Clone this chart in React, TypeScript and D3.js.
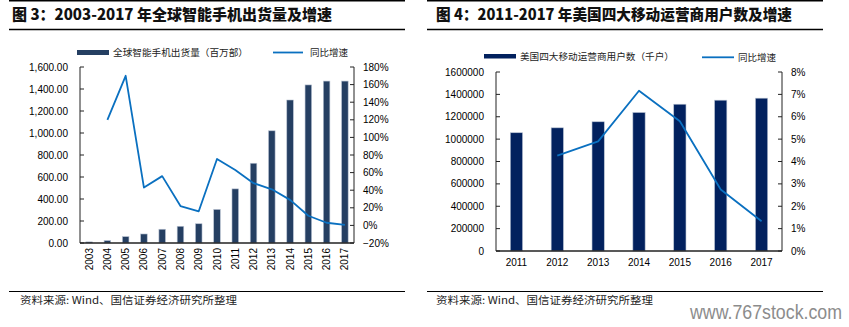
import React from "react";
import * as d3 from "d3";

// ---- Data: Figure 3 ----
const years3 = ["2003","2004","2005","2006","2007","2008","2009","2010","2011","2012","2013","2014","2015","2016","2017"];
const shipments3 = [10, 22, 58, 82, 125, 152, 175, 305, 492, 725, 1020, 1300, 1437, 1472, 1472];
const growth3: (number | null)[] = [null, 1.20, 1.70, 0.43, 0.56, 0.22, 0.16, 0.755, 0.63, 0.48, 0.41, 0.29, 0.11, 0.03, 0.005];

// ---- Data: Figure 4 ----
const years4 = ["2011","2012","2013","2014","2015","2016","2017"];
const subs4 = [1057000, 1101000, 1155000, 1238000, 1312000, 1348000, 1366000];
const growth4: (number | null)[] = [null, 0.0426, 0.049, 0.0716, 0.058, 0.0275, 0.0133];

const title3 = "图 3：2003-2017 年全球智能手机出货量及增速";
const title4 = "图 4：2011-2017 年美国四大移动运营商用户数及增速";
const legendBar3 = "全球智能手机出货量（百万部）";
const legendBar4 = "美国四大移动运营商用户数（千户）";
const legendLine = "同比增速";
const source = "资料来源: Wind、国信证券经济研究所整理";
const watermark = "www.767stock.com";

const NUM = "'Liberation Sans', Arial, sans-serif";
const CJK = "'Noto Sans CJK SC', 'Noto Sans', sans-serif";
const LINE = "#0a70c0";

export default function App() {
  // Figure 3 scales
  const x3 = d3.scaleBand<string>().domain(years3).range([80, 354]).paddingInner(0.64).paddingOuter(0.32);
  const y3 = d3.scaleLinear().domain([0, 1600]).range([243, 67]);
  const y3r = d3.scaleLinear().domain([-0.2, 1.8]).range([243, 67]);
  const line3 = d3.line<[string, number | null]>()
    .defined(d => d[1] !== null)
    .x(d => (x3(d[0]) as number) + x3.bandwidth() / 2)
    .y(d => y3r(d[1] as number));
  const pts3 = years3.map((y, i) => [y, growth3[i]] as [string, number | null]);

  // Figure 4 scales
  const x4 = d3.scaleBand<string>().domain(years4).range([496, 782]).paddingInner(0.7).paddingOuter(0.35);
  const y4 = d3.scaleLinear().domain([0, 1600000]).range([251, 72]);
  const y4r = d3.scaleLinear().domain([0, 0.08]).range([251, 72]);
  const line4 = d3.line<[string, number | null]>()
    .defined(d => d[1] !== null)
    .x(d => (x4(d[0]) as number) + x4.bandwidth() / 2)
    .y(d => y4r(d[1] as number));
  const pts4 = years4.map((y, i) => [y, growth4[i]] as [string, number | null]);

  const fmtL3 = d3.format(",.2f");
  const fmtPct = d3.format(".0%");
  const fmtL4 = d3.format("d");

  const axisColor = "#222";

  return (
    <svg width={849} height={327} style={{ position: "absolute", left: 0, top: 0, background: "#fff" }}>
      <rect x={0} y={0} width={849} height={327} fill="#fff" />
      {/* frame lines */}
      <line x1={9} x2={405} y1={0.8} y2={0.8} stroke="#000" strokeWidth={1.5} />
      <line x1={427} x2={823} y1={0.8} y2={0.8} stroke="#000" strokeWidth={1.5} />
      <line x1={9} x2={405} y1={29.5} y2={29.5} stroke="#000" strokeWidth={1.3} />
      <line x1={427} x2={823} y1={29.5} y2={29.5} stroke="#000" strokeWidth={1.3} />
      <line x1={9} x2={405} y1={291.5} y2={291.5} stroke="#000" strokeWidth={1.2} />
      <line x1={427} x2={823} y1={291.5} y2={291.5} stroke="#000" strokeWidth={1.2} />

      {/* titles */}
      <text x={12} y={20} fontFamily={CJK} fontWeight={900} fontSize={15} fill="#111" textLength={320} lengthAdjust="spacingAndGlyphs">{title3}</text>
      <text x={436} y={20} fontFamily={CJK} fontWeight={900} fontSize={15} fill="#111" textLength={356} lengthAdjust="spacingAndGlyphs">{title4}</text>

      {/* legends fig 3 */}
      <rect x={77} y={50} width={32} height={5} fill="#253f62" />
      <text x={113} y={56} fontFamily={CJK} fontSize={9.5} fill="#222" textLength={135} lengthAdjust="spacingAndGlyphs">{legendBar3}</text>
      <line x1={273} x2={303} y1={52.5} y2={52.5} stroke={LINE} strokeWidth={1.8} />
      <text x={310} y={56} fontFamily={CJK} fontSize={9.5} fill="#222" textLength={38} lengthAdjust="spacingAndGlyphs">{legendLine}</text>

      {/* legends fig 4 */}
      <rect x={484} y={54} width={32} height={4.5} fill="#02215e" />
      <text x={520} y={60} fontFamily={CJK} fontSize={9.5} fill="#222" textLength={154} lengthAdjust="spacingAndGlyphs">{legendBar4}</text>
      <line x1={702} x2={734} y1={57.3} y2={57.3} stroke={LINE} strokeWidth={1.8} />
      <text x={738} y={60.5} fontFamily={CJK} fontSize={9.5} fill="#222" textLength={38} lengthAdjust="spacingAndGlyphs">{legendLine}</text>

      {/* ---- Figure 3 ---- */}
      {years3.map((yr, i) => (
        <rect key={yr} x={x3(yr)} y={y3(shipments3[i])} width={x3.bandwidth()} height={y3(0) - y3(shipments3[i])}
          fill="#253f62" stroke="#b8c2d2" strokeWidth={0.6} />
      ))}
      <path d={line3(pts3) || ""} fill="none" stroke={LINE} strokeWidth={1.8} strokeLinejoin="round" />
      {/* left axis */}
      <line x1={80} x2={80} y1={67} y2={243} stroke={axisColor} strokeWidth={1} />
      {y3.ticks(8).map(t => (
        <g key={"l3" + t}>
          <line x1={80} x2={84} y1={y3(t)} y2={y3(t)} stroke={axisColor} strokeWidth={1} />
          <text x={68} y={y3(t)} dy="0.35em" textAnchor="end" fontFamily={NUM} fontSize={10} fill="#000">{fmtL3(t)}</text>
        </g>
      ))}
      {/* right axis */}
      <line x1={354} x2={354} y1={67} y2={243} stroke={axisColor} strokeWidth={1} />
      {y3r.ticks(10).map(t => (
        <g key={"r3" + t}>
          <line x1={350} x2={354} y1={y3r(t)} y2={y3r(t)} stroke={axisColor} strokeWidth={1} />
          <text x={363} y={y3r(t)} dy="0.35em" textAnchor="start" fontFamily={NUM} fontSize={10} fill="#000">{fmtPct(t)}</text>
        </g>
      ))}
      {/* bottom axis */}
      <line x1={80} x2={354} y1={243} y2={243} stroke={axisColor} strokeWidth={1.4} />
      {years3.map(yr => {
        const cx = (x3(yr) as number) + x3.bandwidth() / 2;
        return (
          <text key={"xl3" + yr} transform={`translate(${cx},${248}) rotate(-90)`} dy="0.35em" textAnchor="end"
            fontFamily={NUM} fontSize={10} fill="#000">{yr}</text>
        );
      })}

      {/* ---- Figure 4 ---- */}
      {years4.map((yr, i) => (
        <rect key={yr} x={x4(yr)} y={y4(subs4[i])} width={x4.bandwidth()} height={y4(0) - y4(subs4[i])}
          fill="#02215e" stroke="#b8c2d2" strokeWidth={0.6} />
      ))}
      <path d={line4(pts4) || ""} fill="none" stroke={LINE} strokeWidth={1.8} strokeLinejoin="round" />
      <line x1={496} x2={496} y1={72} y2={251} stroke={axisColor} strokeWidth={1} />
      {y4.ticks(8).map(t => (
        <g key={"l4" + t}>
          <line x1={496} x2={500} y1={y4(t)} y2={y4(t)} stroke={axisColor} strokeWidth={1} />
          <text x={484} y={y4(t)} dy="0.35em" textAnchor="end" fontFamily={NUM} fontSize={10} fill="#000">{fmtL4(t)}</text>
        </g>
      ))}
      <line x1={782} x2={782} y1={72} y2={251} stroke={axisColor} strokeWidth={1} />
      {y4r.ticks(8).map(t => (
        <g key={"r4" + t}>
          <line x1={778} x2={782} y1={y4r(t)} y2={y4r(t)} stroke={axisColor} strokeWidth={1} />
          <text x={791} y={y4r(t)} dy="0.35em" textAnchor="start" fontFamily={NUM} fontSize={10} fill="#000">{fmtPct(t)}</text>
        </g>
      ))}
      <line x1={496} x2={782} y1={251} y2={251} stroke={axisColor} strokeWidth={1.4} />
      {years4.map(yr => {
        const cx = (x4(yr) as number) + x4.bandwidth() / 2;
        return (
          <text key={"xl4" + yr} x={cx} y={262} dy="0.35em" textAnchor="middle" fontFamily={NUM} fontSize={10} fill="#000">{yr}</text>
        );
      })}

      {/* sources */}
      <text x={20} y={304} fontFamily={CJK} fontSize={10} fill="#222" textLength={217} lengthAdjust="spacingAndGlyphs">{source}</text>
      <text x={436} y={304} fontFamily={CJK} fontSize={10} fill="#222" textLength={217} lengthAdjust="spacingAndGlyphs">{source}</text>

      {/* watermark */}
      <text transform="translate(690,319) scale(1,1.2)" x={0} y={0} fontFamily={NUM} fontSize={17.5} fill="#8c8c8c" textLength={152} lengthAdjust="spacingAndGlyphs">{watermark}</text>
    </svg>
  );
}
